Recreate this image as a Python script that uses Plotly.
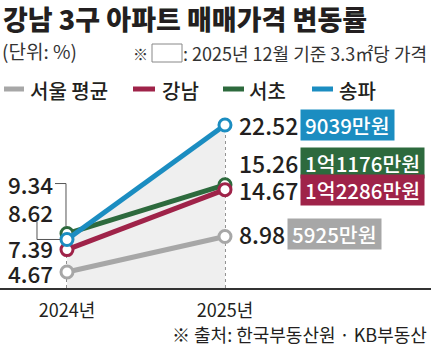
import plotly.graph_objects as go

# ---- data -------------------------------------------------------------
years = ["2024년", "2025년"]
series_names = ["서울 평균", "서초", "강남", "송파"]
seoul = [4.67, 8.98]
seocho = [9.34, 15.26]
gangnam = [7.39, 14.67]
songpa = [8.62, 22.52]
# 2025년 12월 기준 3.3㎡당 가격
price_seoul = "5925만원"
price_seocho = "1억1176만원"
price_gangnam = "1억2286만원"
price_songpa = "9039만원"

# ---- style ------------------------------------------------------------
W, H = 431, 348
M_TOP, M_BOT = 100, 60
PLOT_H = H - M_TOP - M_BOT
BASE_PX = H - M_BOT

GRAY = "#a7a7a7"
RED = "#9f2349"
GREEN = "#2d6a3d"
BLUE = "#1b8dc1"
INK = "#231f20"

KR = "Noto Sans CJK KR"
PAD = "\u2009"  # thin space padding inside the price boxes

Y_RANGE = [2.727, 25.556]
X_RANGE = [-0.424, 2.304]


def px(x):
    return x / W


def py(y):
    return (BASE_PX - y) / PLOT_H


series = [
    (series_names[0], seoul, GRAY, price_seoul),
    (series_names[1], seocho, GREEN, price_seocho),
    (series_names[2], gangnam, RED, price_gangnam),
    (series_names[3], songpa, BLUE, price_songpa),
]

fig = go.Figure()

# light shaded band under the highest line
fig.add_trace(go.Scatter(
    x=years, y=songpa, mode="lines", line=dict(width=0),
    fill="tozeroy", fillcolor="#efefef", hoverinfo="skip", showlegend=False,
))

for name, vals, col, _ in series:
    fig.add_trace(go.Scatter(
        x=years, y=vals, name=name, mode="lines+markers",
        line=dict(color=col, width=5),
        marker=dict(size=12, color="white", line=dict(color=col, width=3)),
        showlegend=False, cliponaxis=False,
    ))

shapes = []
# dotted guides at each year
first_vals = [s[1][0] for s in series]
last_vals = [s[1][1] for s in series]
shapes.append(dict(type="line", xref="x", yref="y", x0=years[0], x1=years[0],
                   y0=Y_RANGE[0], y1=max(first_vals), layer="below",
                   line=dict(color="#555555", width=1.3, dash="dot")))
shapes.append(dict(type="line", xref="x", yref="y", x0=years[1], x1=years[1],
                   y0=Y_RANGE[0], y1=max(last_vals), layer="below",
                   line=dict(color="#555555", width=1.3, dash="dot")))

# bracket leaders for the crowded 2024 labels (pixel offsets from the point)
shapes.append(dict(type="path", xref="x", yref="y", xsizemode="pixel", ysizemode="pixel",
                   xanchor=years[0], yanchor=seocho[0],
                   path="M -12 50 L -1 50 L -1 7",
                   line=dict(color="#555555", width=1)))
shapes.append(dict(type="path", xref="x", yref="y", xsizemode="pixel", ysizemode="pixel",
                   xanchor=years[0], yanchor=songpa[0],
                   path="M -30 18 L -30 0 L -7 0",
                   line=dict(color="#555555", width=1)))

# legend swatches
legend_items = [(GRAY, 4, 24, 28), (RED, 133, 155, 160), (GREEN, 223, 244, 247), (BLUE, 312, 333, 337)]
legend_labels = [series_names[0], series_names[2], series_names[1], series_names[3]]
for (col, x0, x1, _), _lab in zip(legend_items, legend_labels):
    shapes.append(dict(type="line", xref="paper", yref="paper",
                       x0=px(x0), x1=px(x1), y0=py(89), y1=py(89),
                       line=dict(color=col, width=5)))

# reference box in the note line
shapes.append(dict(type="rect", xref="paper", yref="paper",
                   x0=px(152), x1=px(182), y0=py(62), y1=py(44),
                   line=dict(color="#888888", width=1), fillcolor="white"))

annotations = []
annotations.append(dict(xref="paper", yref="paper", x=px(1), y=py(19),
                        xanchor="left", yanchor="middle", showarrow=False,
                        text="강남 3구 아파트 매매가격 변동률",
                        font=dict(family=KR, size=27, color=INK, weight=900)))
annotations.append(dict(xref="paper", yref="paper", x=px(0), y=py(51),
                        xanchor="left", yanchor="middle", showarrow=False,
                        text="(단위: %)", font=dict(family=KR, size=19, color="#333333")))
annotations.append(dict(xref="paper", yref="paper", x=px(131), y=py(53),
                        xanchor="left", yanchor="middle", showarrow=False,
                        text="※", font=dict(family=KR, size=15, color="#333333")))
annotations.append(dict(xref="paper", yref="paper", x=px(429), y=py(53),
                        xanchor="right", yanchor="middle", showarrow=False,
                        text=": 2025년 12월 기준 3.3㎡당 가격",
                        font=dict(family=KR, size=18, color="#333333")))

for (col, _, _, tx), lab in zip(legend_items, legend_labels):
    annotations.append(dict(xref="paper", yref="paper", x=px(tx), y=py(90),
                            xanchor="left", yanchor="middle", showarrow=False,
                            text=lab, font=dict(family=KR, size=20, color=INK, weight=500)))

# 2024 value labels (pixel shifts keep them apart)
left_shift = {seoul[0]: -1, gangnam[0]: 2, songpa[0]: 27, seocho[0]: 50}
for _, vals, col, _ in series:
    annotations.append(dict(x=years[0], y=vals[0], xref="x", yref="y",
                            xanchor="right", yanchor="middle", showarrow=False,
                            xshift=-12, yshift=left_shift[vals[0]],
                            text=f"{vals[0]:.2f}",
                            font=dict(family=KR, size=22.5, color=INK, weight=500)))

# 2025 value labels and price boxes
right_shift = {seoul[1]: 3, gangnam[1]: 0, seocho[1]: 22, songpa[1]: 0}
box_shift = {seoul[1]: 62, gangnam[1]: 75, seocho[1]: 75, songpa[1]: 75}
for _, vals, col, price in series:
    ys = right_shift[vals[1]]
    annotations.append(dict(x=years[1], y=vals[1], xref="x", yref="y",
                            xanchor="left", yanchor="middle", showarrow=False,
                            xshift=12, yshift=ys, text=f"{vals[1]:.2f}",
                            font=dict(family=KR, size=23, color=INK, weight=500)))
    annotations.append(dict(x=years[1], y=vals[1], xref="x", yref="y",
                            xanchor="left", yanchor="middle", showarrow=False,
                            xshift=box_shift[vals[1]], yshift=ys, text=PAD + price + PAD,
                            bgcolor=col, borderpad=0,
                            font=dict(family=KR, size=20.5, color="white", weight=500)))

annotations.append(dict(xref="paper", yref="paper", x=px(429), y=py(334),
                        xanchor="right", yanchor="middle", showarrow=False,
                        text="※ 출처: 한국부동산원 · KB부동산",
                        font=dict(family=KR, size=18, color=INK)))

fig.update_layout(
    width=W, height=H,
    margin=dict(l=0, r=0, t=M_TOP, b=M_BOT),
    paper_bgcolor="white", plot_bgcolor="white",
    shapes=shapes, annotations=annotations,
    xaxis=dict(type="category", range=X_RANGE, showgrid=False, zeroline=False,
               showline=True, linecolor="#333333", linewidth=1.5,
               ticks="", ticklabelstandoff=6,
               tickfont=dict(family=KR, size=18, color=INK)),
    yaxis=dict(range=Y_RANGE, showgrid=False, zeroline=False, showticklabels=False,
               showline=False),
    showlegend=False,
)

fig.write_html("out.html")
